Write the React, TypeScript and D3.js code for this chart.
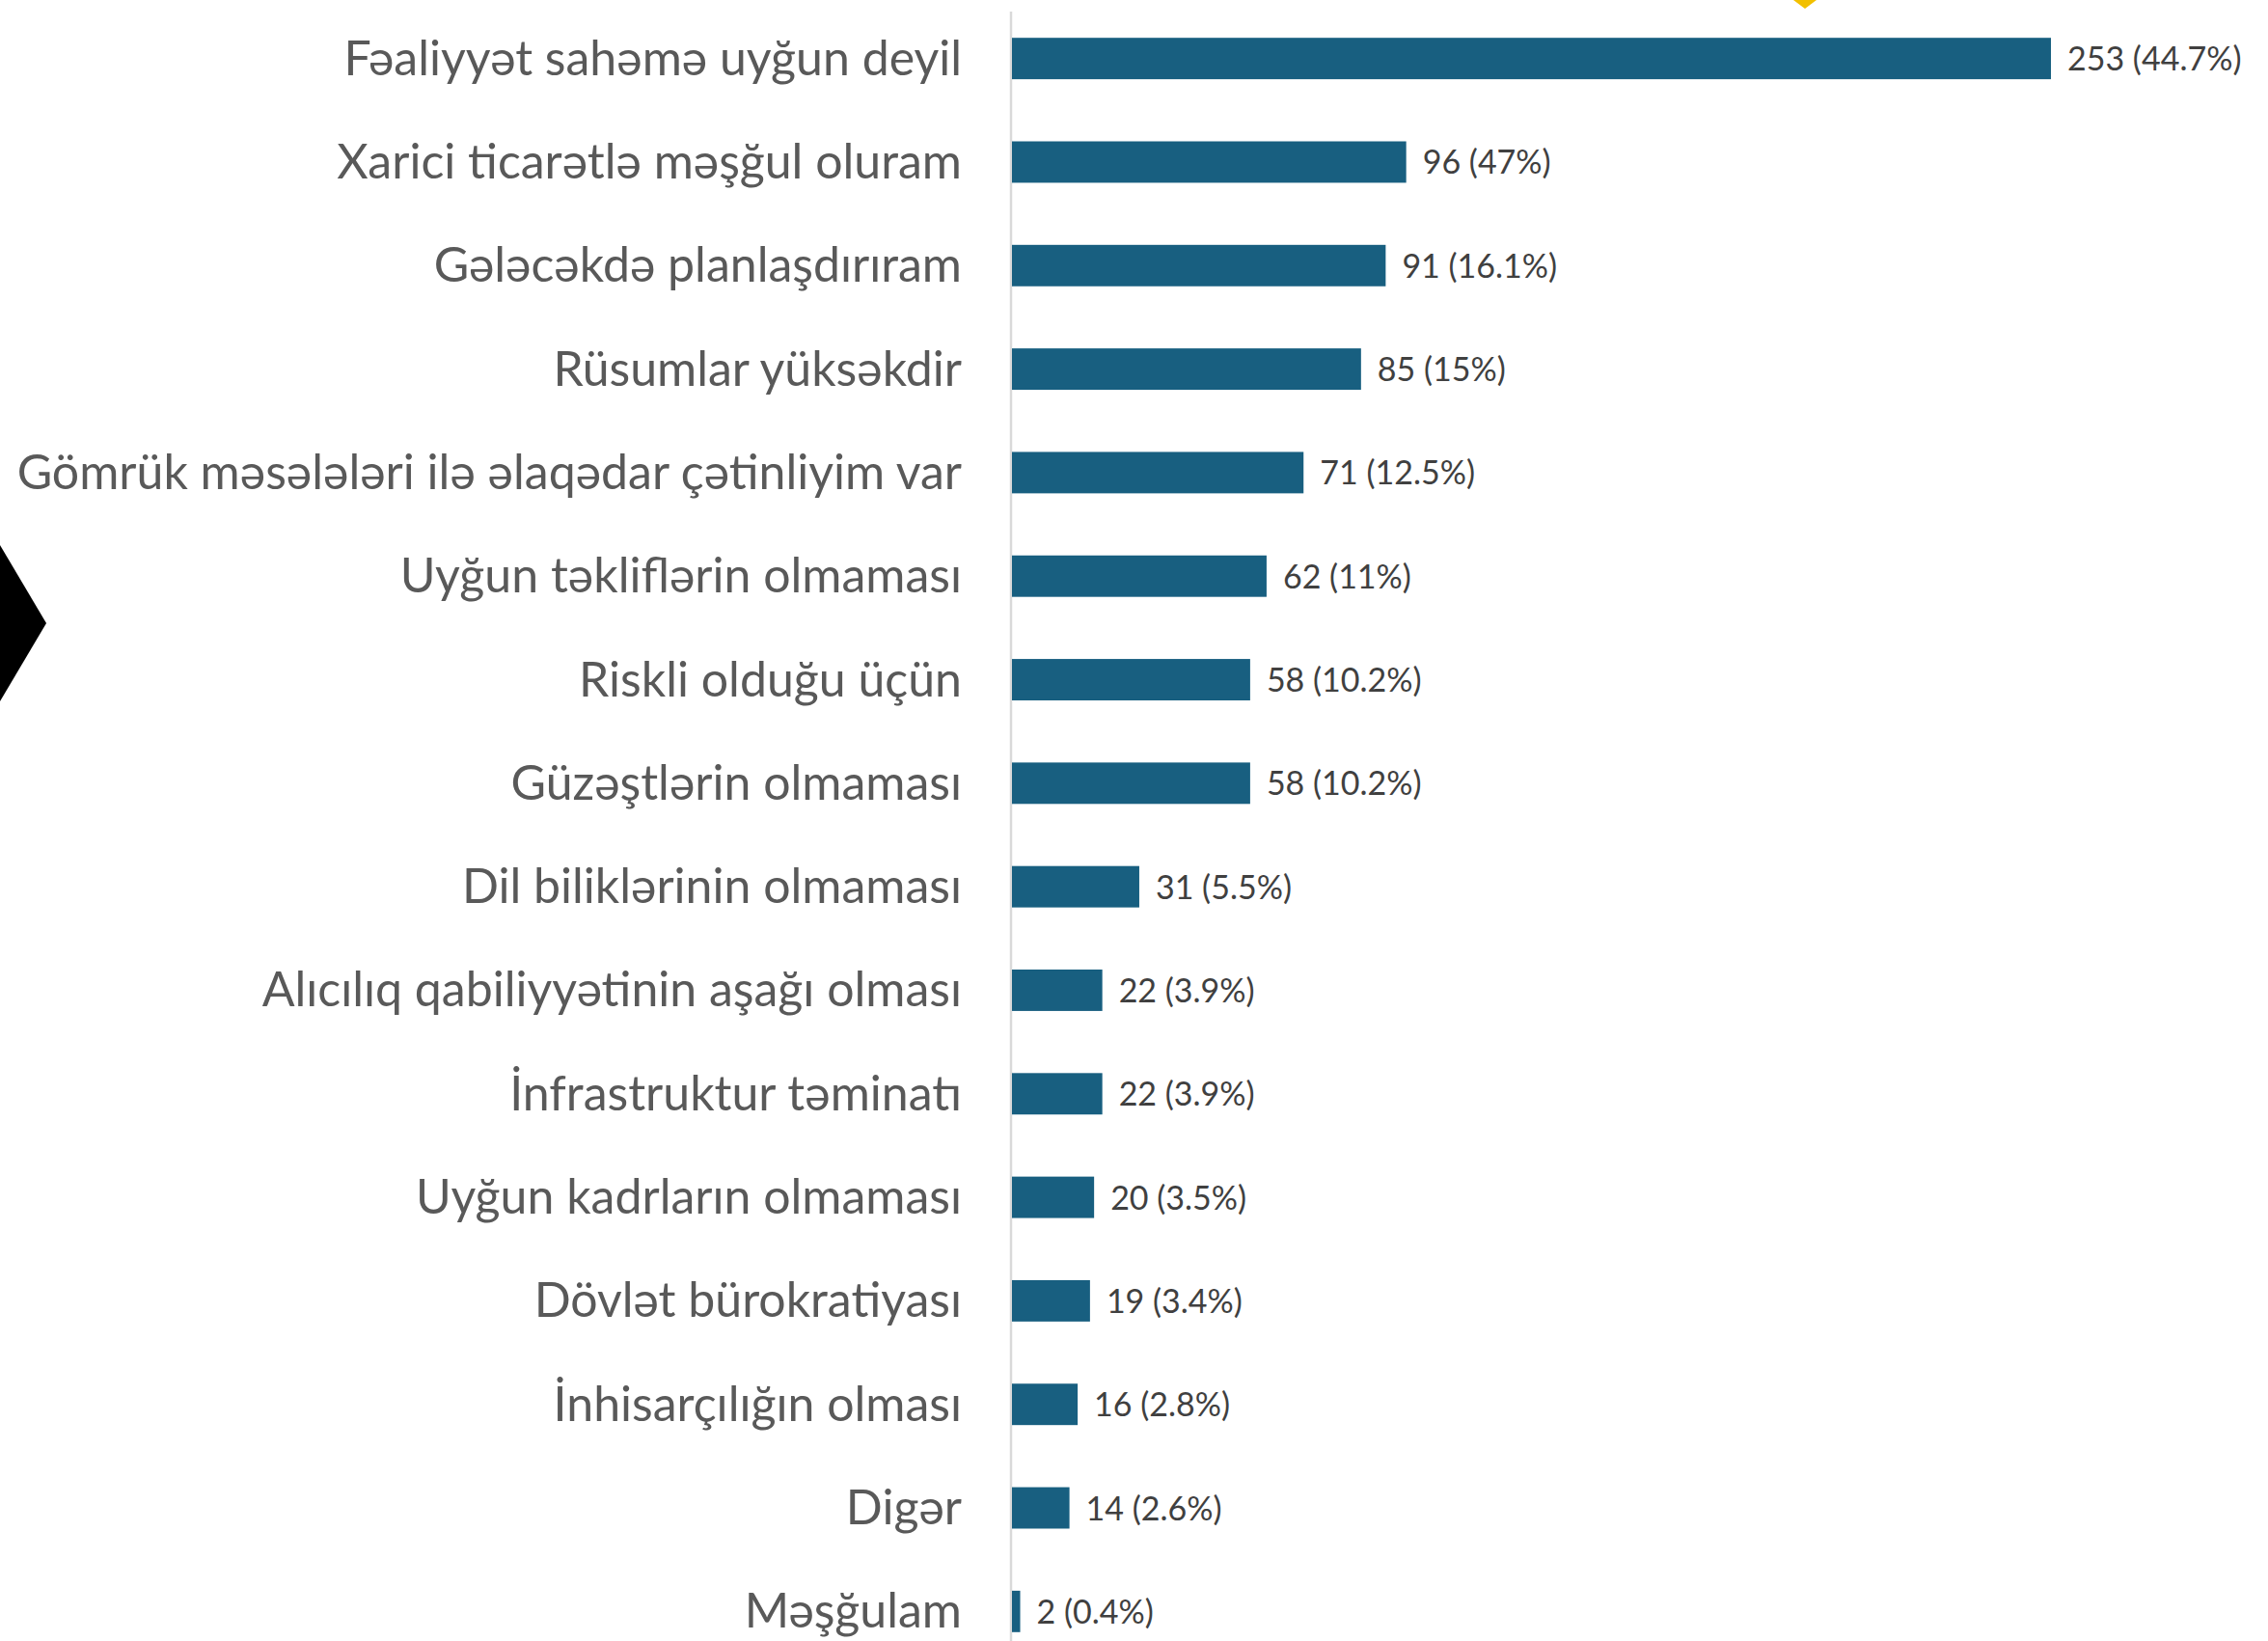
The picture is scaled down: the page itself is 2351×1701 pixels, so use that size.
import React from "react";
import * as d3 from "d3";

const categories = [
  "Fəaliyyət sahəmə uyğun deyil",
  "Xarici ticarətlə məşğul oluram",
  "Gələcəkdə planlaşdırıram",
  "Rüsumlar yüksəkdir",
  "Gömrük məsələləri ilə əlaqədar çətinliyim var",
  "Uyğun təkliflərin olmaması",
  "Riskli olduğu üçün",
  "Güzəştlərin olmaması",
  "Dil biliklərinin olmaması",
  "Alıcılıq qabiliyyətinin aşağı olması",
  "İnfrastruktur təminatı",
  "Uyğun kadrların olmaması",
  "Dövlət bürokratiyası",
  "İnhisarçılığın olması",
  "Digər",
  "Məşğulam",
];

const counts = [253, 96, 91, 85, 71, 62, 58, 58, 31, 22, 22, 20, 19, 16, 14, 2];

const percents = [
  "44.7%", "47%", "16.1%", "15%", "12.5%", "11%", "10.2%", "10.2%",
  "5.5%", "3.9%", "3.9%", "3.5%", "3.4%", "2.8%", "2.6%", "0.4%",
];

const W = 2351;
const H = 1701;
const axisX = 1048;
const barColor = "#185f80";

const App = () => {
  const yScale = d3
    .scaleBand<string>()
    .domain(categories)
    .range([7, 1724])
    .paddingInner(0.6)
    .paddingOuter(0.3);

  const xScale = d3
    .scaleLinear()
    .domain([0, d3.max(counts) as number])
    .range([axisX + 1, 2126]);

  const bw = yScale.bandwidth();

  return (
    <div style={{ position: "absolute", left: 0, top: 0 }}>
      <svg width={W} height={H} style={{ display: "block", background: "#fff" }}>
        {/* decorative shapes cut off at the edges */}
        <polygon points="0,565 48,646 0,727" fill="#000" />
        <polygon points="1859,0 1883,0 1871,9" fill="#f2c000" />

        <line x1={axisX} x2={axisX} y1={12} y2={H} stroke="#d9d9d9" strokeWidth={2.5} />

        {categories.map((c, i) => {
          const y = yScale(c) as number;
          const cy = y + bw / 2;
          const x1 = xScale(counts[i]);
          return (
            <g key={c}>
              <rect x={axisX + 1} y={y} width={x1 - axisX - 1} height={bw} fill={barColor} />
              <text
                x={997}
                y={cy + 17}
                textAnchor="end"
                fill="#595959"
                fontFamily="Lato, 'Open Sans', sans-serif"
                fontSize={50}
              >
                {c}
              </text>
              <text
                x={x1 + 17}
                y={cy + 12.5}
                fill="#404040"
                fontFamily="Lato, 'Open Sans', sans-serif"
                fontSize={34}
              >
                {`${counts[i]} (${percents[i]})`}
              </text>
            </g>
          );
        })}
      </svg>
    </div>
  );
};

export default App;
